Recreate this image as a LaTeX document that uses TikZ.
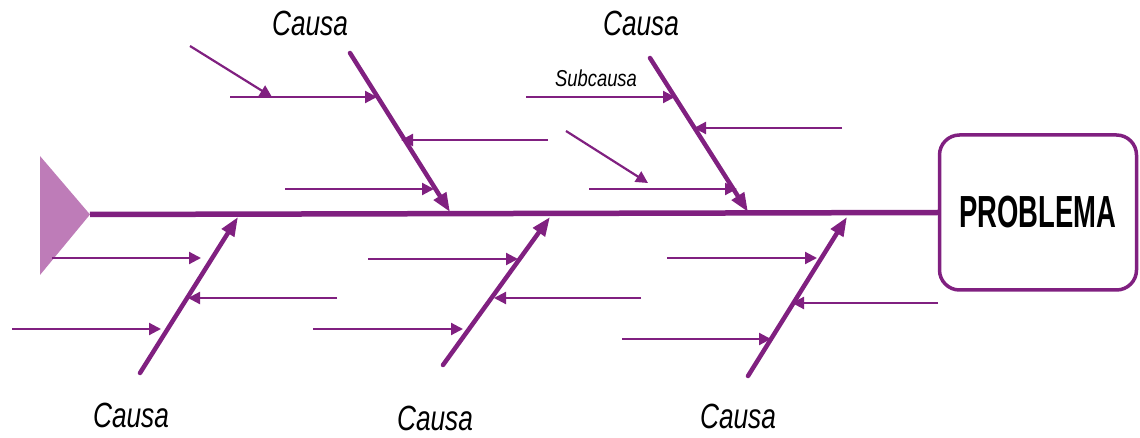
\documentclass[tikz,border=0pt]{standalone}
\usepackage{fontspec}
\setmainfont{Liberation Sans}
\usepackage{graphicx}
\usetikzlibrary{arrows.meta}
\definecolor{fishpurple}{RGB}{128,32,128}
\definecolor{fishhead}{RGB}{190,124,184}
\begin{document}
\begin{tikzpicture}[x=1pt,y=-1pt,
  spine/.style={draw=fishpurple, line width=5.5pt},
  bone/.style={draw=fishpurple, line width=4.5pt, line cap=round, -{Triangle[length=19pt,width=14pt]}},
  sub/.style={draw=fishpurple, line width=2.2pt, -{Triangle[length=12pt,width=12pt]}},
  causa/.style={anchor=base, inner sep=0pt, font=\fontsize{35}{40}\selectfont\itshape},
  subcausa/.style={anchor=base, inner sep=0pt, font=\fontsize{23}{27}\selectfont\itshape},
  probbox/.style={draw=fishpurple, line width=3.5pt, rounded corners=20pt, fill=white,
    minimum width=197pt, minimum height=155pt, inner sep=0pt,
    font=\fontsize{45}{50}\selectfont\bfseries}
]
\useasboundingbox (0,0) rectangle (1140,438);

% head of the fish
\coordinate (tip) at (90,214.5);
\fill[fishhead] (40,156) -- (tip) -- (40,275) -- cycle;

% problem box
\node[probbox] (prob) at (1038,212.5) {\scalebox{0.61}[1]{PROBLEMA}};

% spine
\draw[spine] (tip) -- (prob.west);

% main bones
\coordinate (b1s) at (350,53);  \coordinate (b1e) at (450,212);
\coordinate (b2s) at (650,58);  \coordinate (b2e) at (748,212);
\coordinate (b3s) at (140,373); \coordinate (b3e) at (238,217);
\coordinate (b4s) at (443,365); \coordinate (b4e) at (550,217);
\coordinate (b5s) at (748,376); \coordinate (b5e) at (847,217);
\foreach \b in {b1,b2,b3,b4,b5} { \draw[bone] (\b s) -- (\b e); }

% sub-causes
\foreach \n/\ax/\ay/\bx/\by in {
  s1a/230/97/377/97, s1b/190/46/272/97, s1c/548/140/401/140, s1d/285/189/434/189,
  s2a/526/97/675/97, s2b/842/128/694/128, s2c/566/131/648/183, s2d/589/189/737/189,
  s3a/52/258/201/258, s3b/337/298/188/298, s3c/12/329/161/329,
  s4a/368/259/518/259, s4b/641/298/494/298, s4c/313/329/463/329,
  s5a/667/258/817/258, s5b/938/303/792/303, s5c/622/339/771/339} {
  \coordinate (\n s) at (\ax,\ay);
  \coordinate (\n e) at (\bx,\by);
  \draw[sub] (\n s) -- (\n e);
}

% labels
\node[causa] (c1) at (310,36) {\scalebox{0.75}[1]{Causa}};
\node[causa] (c2) at (641,36) {\scalebox{0.75}[1]{Causa}};
\node[causa] (c3) at (131,427) {\scalebox{0.75}[1]{Causa}};
\node[causa] (c4) at (435,430) {\scalebox{0.75}[1]{Causa}};
\node[causa] (c5) at (738,428) {\scalebox{0.75}[1]{Causa}};
\node[subcausa] (sc) at (596,87) {\scalebox{0.8}[1]{Subcausa}};
\end{tikzpicture}
\end{document}
